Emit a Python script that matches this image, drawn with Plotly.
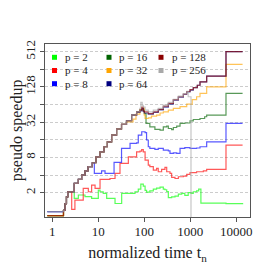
import plotly.graph_objects as go

# ---------------- data ----------------
procs = [2, 4, 8, 16, 32, 64, 128, 256]
colors = ["#00ff00", "#ff0000", "#0000ff", "#006400", "#ffa500", "#000080", "#8b0000", "#a9a9a9"]

# common staircase shared by the larger runs
t_common = [0.78, 1.6, 1.75, 1.9, 2.03, 2.16, 3.0, 3.68, 4.35, 5.13, 6.0, 7.4, 8.9, 10.9,
            13.3, 15.7, 19.5, 25, 32, 41, 53]
v_common = [0.81, 0.81, 1.0, 1.3, 1.7, 2.08, 2.89, 3.38, 4.0, 4.74, 5.56, 6.5, 8.2, 10.0,
            12.2, 14.8, 19.3, 24.5, 29.5, 33.9, 42.4]

t_p2 = [0.78, 1.6, 1.75, 1.9, 2.03, 2.16, 3.0, 3.68, 5.13, 7.16, 10.0, 10.9, 12.8, 15.2, 23.1,
        32.2, 49, 62.7, 74, 84, 95, 104, 112, 132, 157, 185, 220, 259, 281, 307, 333, 393,
        465, 550, 650, 760, 900, 1035, 1160, 1370, 1520, 1700, 5970, 13700]
v_p2 = [0.81, 0.81, 1.0, 1.3, 1.7, 2.08, 1.6, 1.83, 1.71, 1.6, 2.22, 2.08, 1.95, 1.6, 1.31,
        1.95, 1.95, 2.08, 2.3, 2.8, 2.6, 2.2, 2.05, 2.15, 2.3, 2.4, 2.5, 2.3, 2.25, 2.1, 1.65,
        1.7, 1.75, 1.9, 1.95, 1.8, 2.0, 1.95, 2.08, 2.15, 2.3, 1.33, 1.3, 1.34]

t_p4 = [0.78, 1.6, 1.75, 1.9, 2.03, 2.16, 2.64, 3.1, 4.7, 6.07, 7.16, 8.5, 10.9, 17.9, 23.1,
        29.6, 45, 68, 80.5, 87.6, 95, 104, 122, 132, 157, 185, 201, 238, 281, 307, 362, 393,
        465, 550, 707, 835, 987, 1370, 1920, 2270, 5970, 13700]
v_p4 = [0.81, 0.81, 1.0, 1.3, 1.7, 2.08, 1.04, 1.5, 2.37, 2.08, 2.7, 2.37, 3.38, 3.5, 4.27,
        6.34, 8.2, 10.0, 10.3, 10.9, 10.0, 7.2, 5.94, 5.56, 4.88, 5.21, 4.56, 5.0, 5.4, 4.56,
        4.27, 3.66, 3.5, 3.75, 3.85, 4.1, 4.4, 4.56, 4.74, 5.0, 13.0, 13.0]

t_p8_tail = [8.2, 11.8, 14, 22, 32, 49, 68, 74, 88, 104, 112, 122, 132, 170, 201, 259, 333,
             362, 428, 506, 598, 760, 987, 1370, 1625, 2270, 5970, 13700]
v_p8_tail = [4.27, 4.74, 4.27, 6.58, 11.4, 13.9, 14.2, 19.3, 22, 21.3, 15.9, 12.2, 11.4, 11.0,
             11.4, 10.7, 10.4, 9.37, 9.6, 9.37, 11.4, 11.8, 11.4, 11.6, 12.2, 14.8, 30.5, 30.5]

t_p16_tail = [68, 80, 100, 109, 132, 170, 220, 259, 307, 333, 393, 428, 506, 598, 760, 987,
              1160, 1625, 2050, 2270, 5970, 13700]
v_p16_tail = [48.2, 52, 45, 30.5, 26.7, 24.1, 23.4, 26.7, 27.4, 25, 24, 26, 27.4, 30.5, 31,
              33.6, 35.6, 37, 39.7, 42.4, 99.5, 99.5]

t_p32_tail = [41, 57, 66, 80, 88, 100, 104, 122, 143, 185, 220, 259, 333, 428, 598, 835, 1100,
              1370, 1625, 2270, 5970, 13700]
v_p32_tail = [32.5, 36, 44, 52, 55, 42.4, 37, 38, 40.6, 42.4, 46, 48, 51.6, 55, 59, 65, 78,
              87, 99.5, 128, 310, 310]

t_top_tail = [68, 80, 88, 95, 100, 122, 157, 201, 259, 333, 428, 550, 707, 835, 987, 1160,
              1420, 1625, 2270, 5970, 13700]
v_p64_tail = [47, 50, 55, 49, 46, 44, 47, 52, 58, 65, 76, 86, 96, 105, 113, 124, 137, 156,
              196, 512, 512]
v_p128_tail = [48.2, 52, 58, 50, 48, 45, 48, 53, 60, 67, 78, 87, 97, 107, 115, 125, 137, 156,
               196, 512, 512]

t_p256_tail = [68, 80, 84, 90, 95, 104, 122, 157, 201, 259, 333, 428, 550, 707, 835, 900, 1035]
v_p256_tail = [48.2, 55, 70, 62, 58, 51.6, 48.2, 51.6, 55, 62.8, 70, 79, 89, 99, 108, 87, 0.3]

start_high = 0.95  # runs p = 8, 64, 256 start slightly higher

def with_start(v, s):
    return [s, s] + v[2:]

series = {
    2: (t_p2, v_p2),
    4: (t_p4, v_p4),
    8: (t_common[:12] + t_p8_tail, with_start(v_common[:12], start_high) + v_p8_tail),
    16: (t_common + t_p16_tail, v_common + v_p16_tail),
    32: (t_common[:19] + t_p32_tail, v_common[:19] + v_p32_tail),
    64: (t_common + t_top_tail, with_start(v_common, start_high) + v_p64_tail),
    128: (t_common + t_top_tail, v_common + v_p128_tail),
    256: (t_common + t_p256_tail, with_start(v_common, start_high) + v_p256_tail),
}

y_tickvals = [2, 8, 32, 128, 512]
y_ticktext = ["2", "8", "32", "128", "512"]
y_minorvals = [4, 16, 64, 256]
x_tickvals = [1, 10, 100, 1000, 10000]
x_ticktext = ["1", "10", "100", "1000", "10000"]

# ---------------- figure ----------------
FONT = "Liberation Serif"
BODY = 8                      # default page margin of the html body
W = H = 273 - BODY
ML, MR, MT, MB = 45 - BODY, 23, 44 - BODY, 56
PW, PH = W - ML - MR, H - MT - MB

fig = go.Figure()
for p, c in zip(procs, colors):
    t, v = series[p]
    fig.add_trace(go.Scatter(x=t, y=v, mode="lines", line=dict(color=c, width=1.2, shape="hv"),
                             opacity=0.65, name=f"p = {p}", showlegend=False))

def px2paper(x, y):
    # x, y are page pixels of the 273x273 view
    return (x - BODY - ML) / PW, (BODY + MT + PH - y) / PH

# hand-placed legend (3 columns, tight rows)
leg_cols = [(54.5, 64.3), (109.0, 118.3), (161.0, 171.0)]
leg_rows = [57.3, 70.5, 83.7]
shapes, annotations = [], []
for i, (p, c) in enumerate(zip(procs, colors)):
    col, row = i // 3, i % 3
    mx, tx = leg_cols[col]
    my = leg_rows[row]
    x0, y0 = px2paper(mx - 2.5, my + 2.5)
    x1, y1 = px2paper(mx + 2.5, my - 2.5)
    shapes.append(dict(type="rect", xref="paper", yref="paper", x0=x0, x1=x1, y0=y0, y1=y1,
                       fillcolor=c, line=dict(width=0)))
    ax, ay = px2paper(tx, my)
    annotations.append(dict(xref="paper", yref="paper", x=ax, y=ay, xanchor="left",
                            yanchor="middle", showarrow=False, text=f"p = {p}", borderpad=0,
                            font=dict(family=FONT, size=11, color="#222")))

grid = dict(showgrid=True, gridcolor="#cccccc", gridwidth=1, griddash="3px,2px")
fig.update_layout(
    width=W, height=H, margin=dict(l=ML, r=MR, t=MT, b=MB, pad=0),
    paper_bgcolor="white", plot_bgcolor="white",
    font=dict(family=FONT, color="#222"),
    shapes=shapes, annotations=annotations,
    xaxis=dict(type="log", range=[-0.159, 4.298], tickvals=x_tickvals, ticktext=x_ticktext,
               ticks="outside", ticklen=4, tickcolor="#555", showgrid=False, zeroline=False,
               showline=True, linecolor="#555", linewidth=1, mirror=True,
               ticklabelstandoff=-2,
               tickfont=dict(family=FONT, size=13, color="#222"),
               title=dict(text="normalized time t<sub>n</sub>", standoff=9,
                          font=dict(family=FONT, size=16, color="#222")),
               automargin=False),
    yaxis=dict(type="log", range=[-0.1135, 2.8407], tickvals=y_tickvals, ticktext=y_ticktext,
               tickangle=-90, ticks="outside", ticklen=4, tickcolor="#555",
               minor=dict(tickmode="array", tickvals=y_minorvals, ticks="outside", ticklen=4,
                          tickcolor="#555", **grid),
               zeroline=False, showline=True, linecolor="#555", linewidth=1, mirror=True,
               tickfont=dict(family=FONT, size=13, color="#222"),
               title=dict(text="pseudo speedup", standoff=4,
                          font=dict(family=FONT, size=16, color="#222")),
               automargin=False, **grid),
)

fig.write_html("out.html")
